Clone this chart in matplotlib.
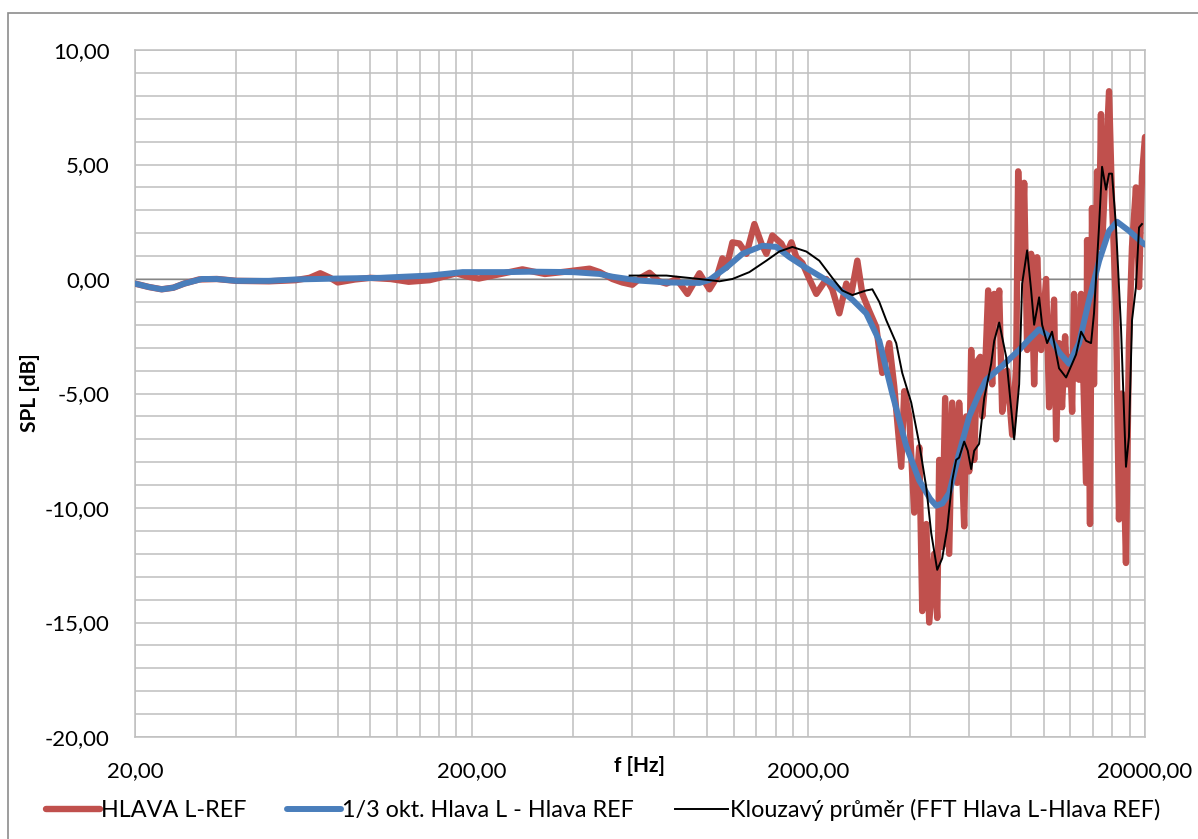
import numpy as np
import matplotlib
matplotlib.use("Agg")
import matplotlib.pyplot as plt
from matplotlib.ticker import FixedLocator, FuncFormatter, NullFormatter
from matplotlib.patches import Rectangle

plt.rcParams['font.family'] = ['Lato', 'DejaVu Sans']

# HLAVA L-REF (raw FFT difference)
red_f = [20, 22, 24, 26, 28, 31, 35, 40, 50, 60, 66, 71, 76, 80, 90, 100, 115, 130, 150, 165,
         180, 195, 210, 240, 283, 330, 380, 448, 480, 524, 560, 600, 635, 675, 720, 758, 812, 875,
         950, 1017, 1067, 1111, 1142, 1190, 1248, 1310, 1383, 1451, 1501, 1564, 1663, 1721, 1781,
         1843, 1920, 2014, 2112, 2262, 2356, 2472, 2593, 2683, 2796, 2893, 3034, 3183, 3316, 3478,
         3599, 3776, 3854, 3988, 4127, 4271, 4360, 4481, 4572, 4731, 4829, 4895, 4996, 5099, 5241,
         5350, 5535, 5610, 5700, 5807, 5887, 6009, 6092, 6218, 6347, 6480, 6570, 6660, 6843, 7033,
         7130, 7278, 7378, 7531, 7792, 8063, 8286, 8401, 8575, 8752, 8933, 9180, 9370, 9564, 9827,
         10170, 10380, 10740, 10890, 11110, 11340, 11580, 11740, 11980, 12150, 12310, 12480, 12740,
         12920, 13370, 13460, 13730, 13920, 14110, 14410, 14600, 14800, 14910, 15320, 15640, 15960,
         16400, 16740, 17090, 17560, 17920, 18300, 18800, 19200, 19590, 20000]
red_db = [-0.2, -0.35, -0.45, -0.38, -0.2, -0.02, 0.0, -0.08, -0.1, -0.05, 0.05, 0.25, 0.05, -0.15,
          -0.02, 0.05, 0.0, -0.12, -0.05, 0.1, 0.25, 0.1, 0.02, 0.2, 0.42, 0.22, 0.32, 0.45, 0.3,
          0.0, -0.15, -0.25, 0.05, 0.27, -0.1, -0.2, 0.0, -0.65, 0.25, -0.45, 0.05, 0.9, 0.5, 1.6,
          1.55, 1.1, 2.4, 1.55, 1.1, 1.9, 1.55, 1.1, 1.6, 0.95, 0.7, 0.0, -0.65, 0.0, -0.45, -1.5,
          -0.2, -0.65, 0.8, -0.65, -1.4, -2.1, -4.1, -2.8, -4.7, -8.2, -4.9, -6.0, -10.2, -7.35,
          -14.5, -10.7, -15.0, -12.0, -14.8, -7.9, -11.7, -5.2, -12.0, -5.4, -8.9, -5.4, -7.5,
          -10.8, -6.0, -8.4, -3.1, -7.9, -3.6, -3.4, -6.0, -5.0, -0.5, -4.6, -0.65, -1.7, -0.5,
          -5.8, -4.0, -6.8, -3.8, 4.7, 0.05, 4.2, -3.1, 1.1, -4.6, 0.95, -3.1, 0.0, -5.6, -0.9,
          -7.0, -2.8, -5.6, -2.5, -4.6, -3.4, -5.8, -0.65, -4.3, -4.4, -0.65, -8.9, 1.7, -10.7,
          3.1, -4.6, 4.7, 1.4, 7.2, 1.4, 5.2, 8.2, 3.4, -1.2, -10.5, -5.0, -12.4, -2.8, 1.4, 4.0,
          -0.35, 4.5, 6.2]

# 1/3 okt. Hlava L - Hlava REF
blue_f = [20, 22, 24, 26, 28, 31.6, 35, 40, 50, 60, 80, 107, 114, 150, 188, 250, 300, 400, 480,
          524, 630, 760, 950, 1017, 1142, 1274, 1461, 1608, 1756, 1972, 2356, 2702, 2972, 3250,
          3550, 3908, 4270, 4600, 4796, 5000, 5240, 5610, 6012, 6430, 6750, 7530, 8455, 9100,
          9690, 10380, 11120, 11890, 12740, 13650, 14620, 15640, 16520, 17940, 19590, 20000]
blue_db = [-0.2, -0.35, -0.45, -0.38, -0.2, 0.0, 0.0, -0.08, -0.08, -0.02, 0.02, 0.05, 0.07,
           0.15, 0.3, 0.3, 0.32, 0.3, 0.22, 0.1, -0.07, -0.15, -0.17, -0.04, 0.5, 1.1, 1.45, 1.4,
           0.96, 0.48, -0.2, -0.9, -1.5, -2.7, -5.0, -7.3, -8.8, -9.6, -9.9, -9.8, -9.35, -7.6,
           -6.0, -5.0, -4.4, -3.8, -3.1, -2.6, -2.2, -2.5, -3.2, -3.7, -2.8, -0.9, 0.8, 2.1, 2.5,
           2.1, 1.6, 1.5]

# Klouzavý průměr (FFT Hlava L-Hlava REF)
black_f = [589, 758, 950, 1089, 1190, 1336, 1501, 1640, 1793, 1973, 2156, 2356, 2522, 2702, 2972,
           3098, 3249, 3408, 3648, 3801, 4043, 4271, 4481, 4635, 4829, 4996, 5170, 5350, 5497,
           5610, 5807, 5950, 6092, 6218, 6430, 6660, 6985, 7130, 7378, 7739, 8173, 8457, 8632,
           8933, 9180, 9370, 9695, 9896, 10240, 10590, 11110, 11660, 12150, 12480, 12920, 13370,
           13830, 14110, 14600, 14910, 15320, 15640, 15960, 16400, 16970, 17560, 17920, 18300,
           18800, 19200, 19590]
black_db = [0.15, 0.15, 0.0, -0.1, 0.0, 0.3, 0.8, 1.2, 1.4, 1.2, 0.8, 0.05, -0.5, -0.7, -0.5,
            -0.45, -1.0, -1.8, -2.8, -4.1, -5.4, -7.2, -9.1, -11.1, -12.7, -12.2, -10.9, -8.8,
            -7.9, -7.8, -7.1, -7.5, -8.3, -7.5, -7.2, -5.2, -3.7, -2.7, -1.9, -3.4, -7.0, -4.6,
            -0.2, 1.25, -0.5, -2.0, -0.8, -2.0, -2.8, -2.3, -3.9, -4.3, -3.7, -3.3, -2.3, -2.7,
            -2.8, -1.5, 2.25, 4.9, 3.9, 4.6, 4.6, 2.3, -2.1, -8.2, -6.9, -1.8, -0.35, 2.25, 2.4]

x_major = [20, 200, 2000, 20000]
y_major = [-20, -15, -10, -5, 0, 5, 10]

W, H = 1198, 839
fig = plt.figure(figsize=(W / 100, H / 100), dpi=100)
ax = fig.add_axes([135 / W, 1 - 737 / H, 1010 / W, 687 / H])

grid_c = '#bfbfbf'
ax.plot(red_f, red_db, color='#C0504D', lw=4.6, solid_joinstyle='round',
        solid_capstyle='round', label='HLAVA L-REF', zorder=3)
ax.plot(blue_f, blue_db, color='#4A7EBB', lw=4.3, solid_joinstyle='round',
        solid_capstyle='round', label='1/3 okt. Hlava L - Hlava REF', zorder=4)
ax.plot(black_f, black_db, color='black', lw=1.4, label='Klouzavý průměr (FFT Hlava L-Hlava REF)',
        zorder=5)

ax.set_xscale('log')
ax.set_xlim(20, 20000)
ax.set_ylim(-20, 10)

minor_x = [20 * k * 10 ** n for n in range(3) for k in range(2, 10)]
ax.xaxis.set_major_locator(FixedLocator(x_major))
ax.xaxis.set_minor_locator(FixedLocator(minor_x))
ax.xaxis.set_minor_formatter(NullFormatter())
ax.yaxis.set_major_locator(FixedLocator(y_major))
ax.yaxis.set_minor_locator(FixedLocator(list(range(-20, 11))))

fmt = FuncFormatter(lambda v, p: f"{v:.2f}".replace('.', ','))
ax.xaxis.set_major_formatter(fmt)
ax.yaxis.set_major_formatter(fmt)

ax.grid(True, which='both', color=grid_c, lw=1.1, zorder=0)
ax.set_axisbelow(True)
ax.axhline(0, color='#868686', lw=1.0, zorder=1)
for s in ax.spines.values():
    s.set_color(grid_c)
    s.set_linewidth(1.1)

ax.tick_params(which='both', length=0)
ax.tick_params(axis='y', labelsize=16, pad=18)
ax.tick_params(axis='x', labelsize=16, pad=17)

fig.text(640 / W, 1 - 766 / H, 'f [Hz]', ha='center', va='center', fontsize=15,
         fontweight='bold')
fig.text(30 / W, 1 - 393 / H, 'SPL [dB]', ha='center', va='center', fontsize=15,
         fontweight='bold', rotation=90)

fig.legend(loc='center', bbox_to_anchor=(603 / W, 1 - 810 / H), ncol=3, frameon=False,
           fontsize=16.8, handlelength=2.3, handletextpad=0.05, columnspacing=1.75)

# chart border
fig.patches.append(Rectangle((8 / W, -0.1), 1.2, 1.1 - 13 / H, transform=fig.transFigure,
                             fill=False, edgecolor='#8c8c8c', lw=1.2))

fig.savefig('out.png', dpi=100)
